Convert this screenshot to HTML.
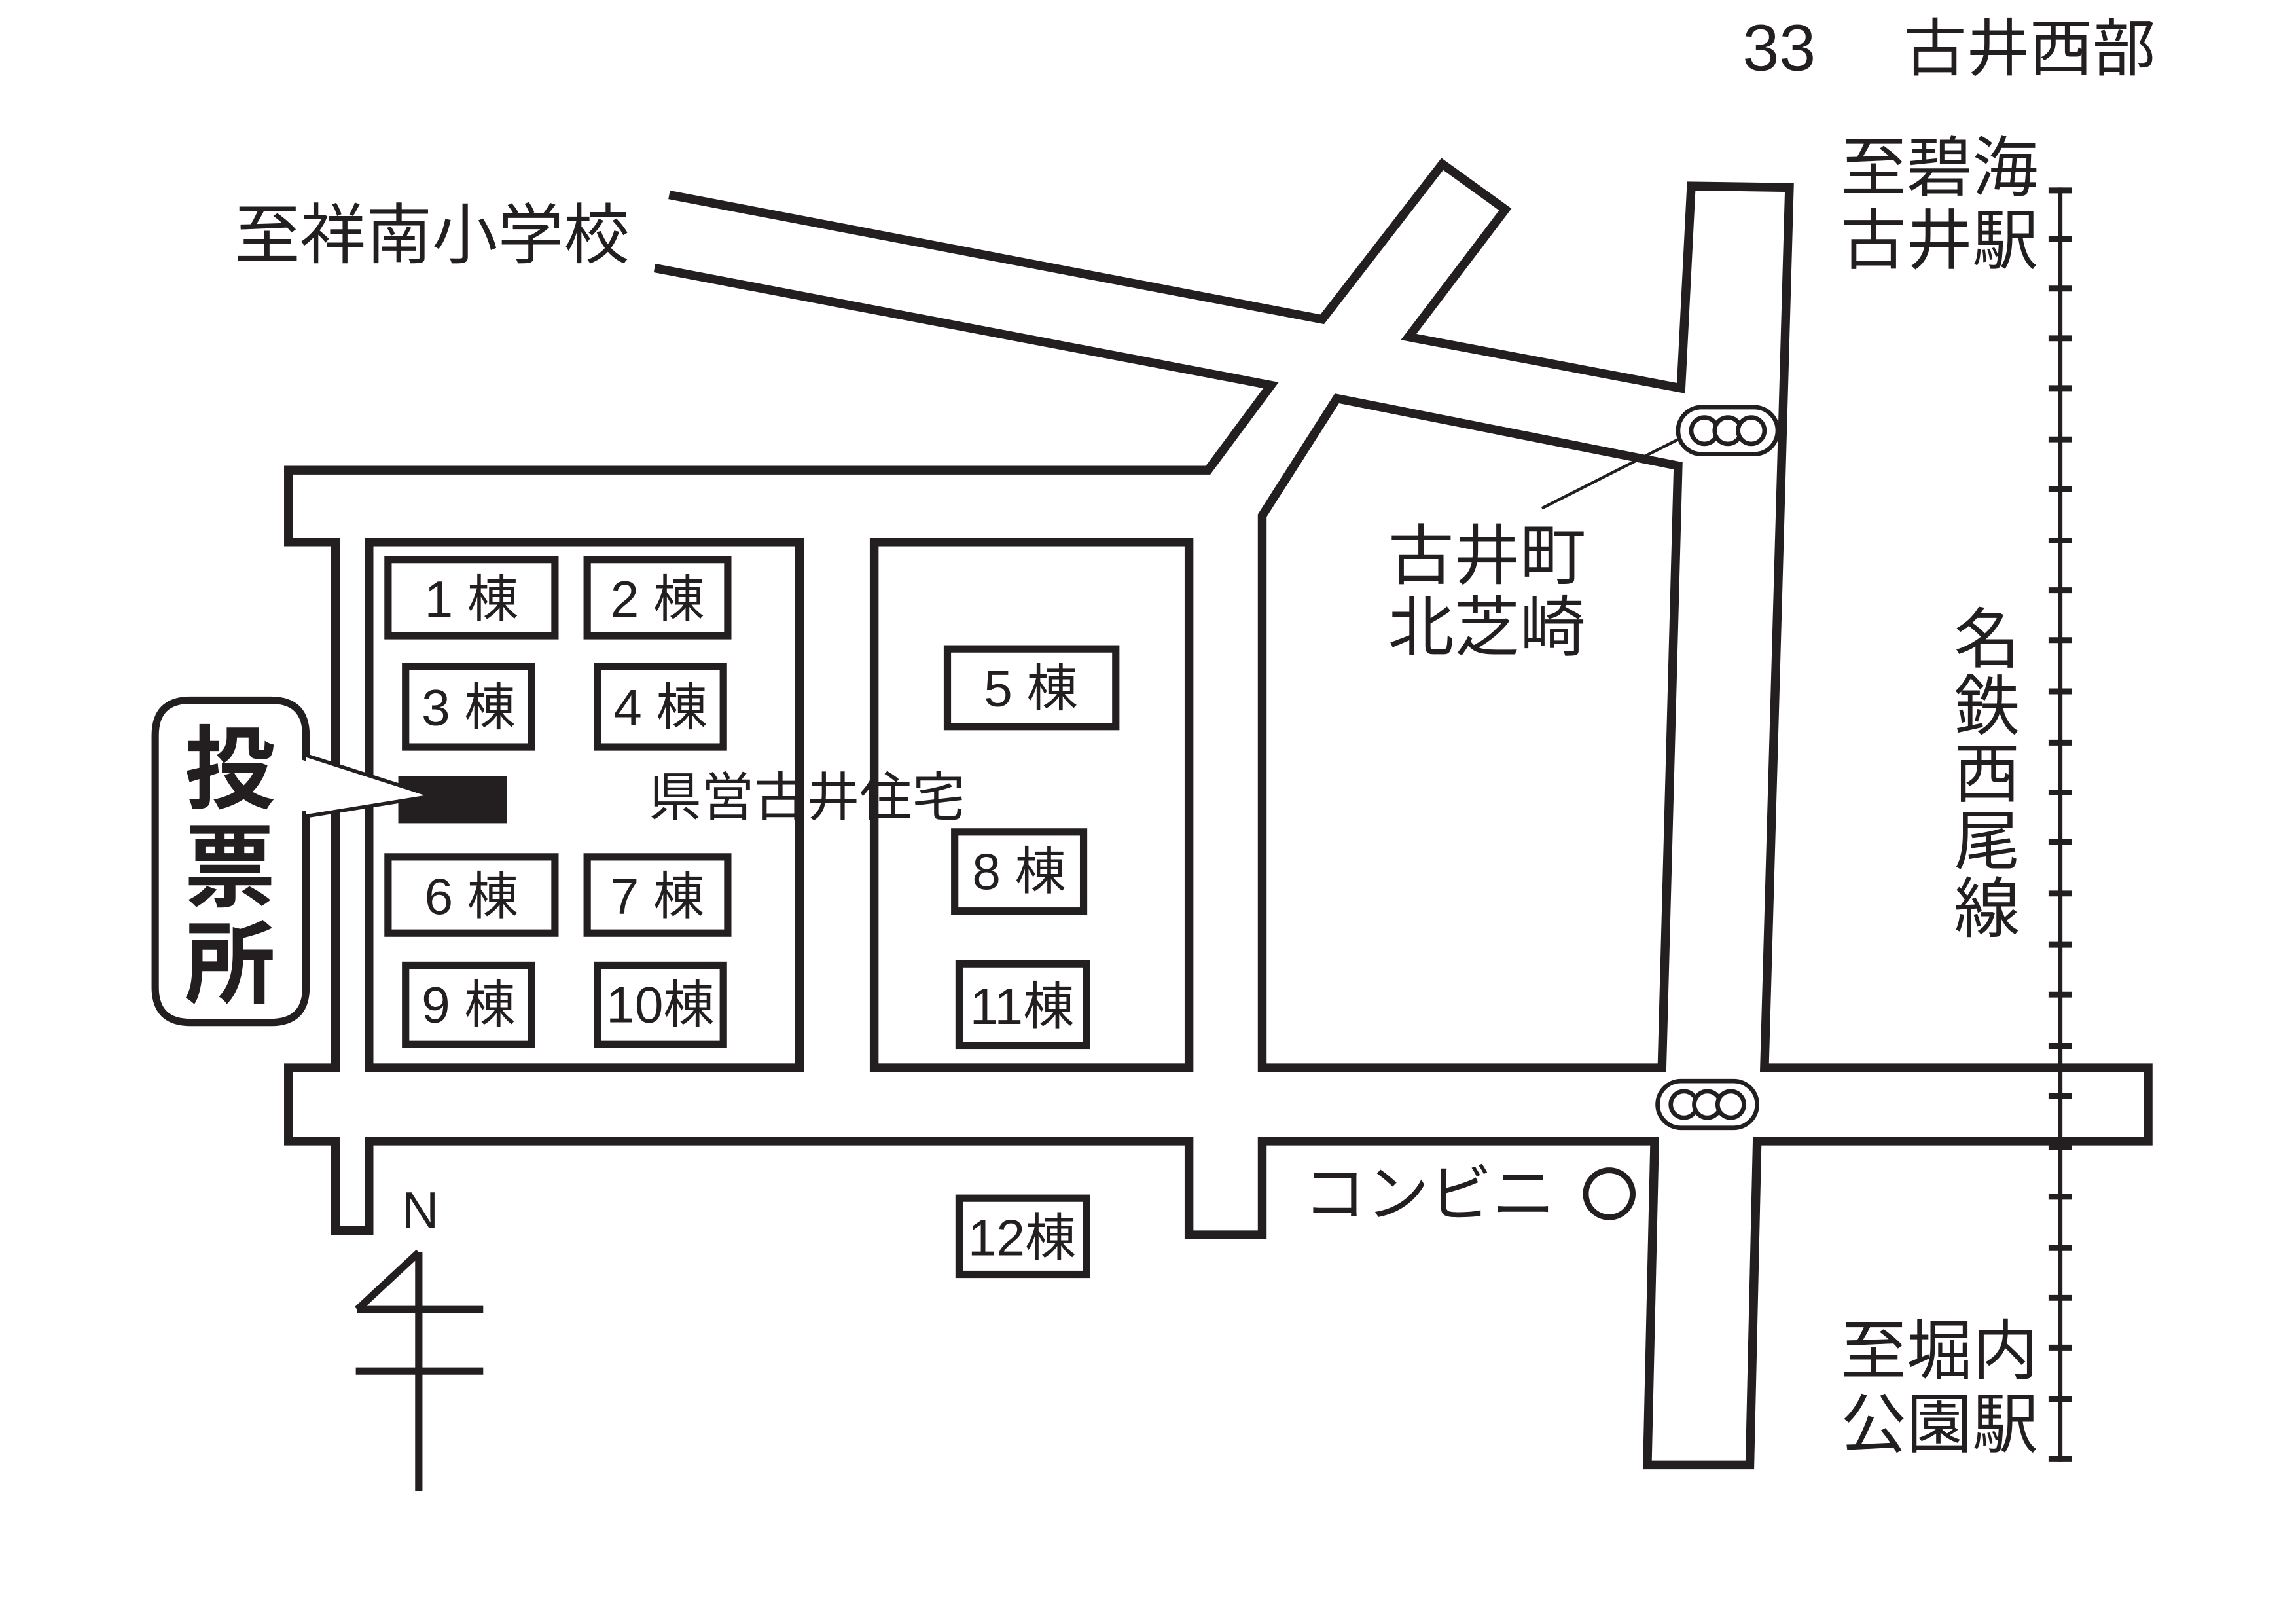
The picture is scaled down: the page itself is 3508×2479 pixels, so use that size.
<!DOCTYPE html>
<html><head><meta charset="utf-8"><style>
html,body{margin:0;padding:0;background:#fff;}
svg{display:block;}
text{font-family:"Liberation Sans","Noto Sans CJK JP",sans-serif;fill:#231f20;}
</style></head><body>
<svg width="3508" height="2479" viewBox="0 0 1568 1108" preserveAspectRatio="none" xmlns="http://www.w3.org/2000/svg">
<rect width="1568" height="1108" fill="#fff"/>
<g fill="none" stroke="#231f20" stroke-width="6" stroke-linejoin="miter">
<polyline points="457,133 903,218 985,112 1028,143 962,230 1148,265 1155,127 1222,128 1205,729 1467,729 1467,779 1200,779 1195,1000 1125,1000 1130,779 862,779 862,843 812,843 812,779 252,779 252,840 229,840 229,779 197,779 197,729 229,729 229,370 197,370 197,321 825,321 868,263 447,183"/>
<rect x="252" y="370" width="294" height="359"/>
<rect x="597" y="370" width="215" height="359"/>
<polygon points="862,352 913,272 1146,318 1135,729 862,729"/>
<rect x="265" y="382" width="114" height="52" stroke-width="5"/>
<rect x="401" y="382" width="96" height="52" stroke-width="5"/>
<rect x="277" y="455" width="86" height="55" stroke-width="5"/>
<rect x="408" y="455" width="86" height="55" stroke-width="5"/>
<rect x="265" y="585" width="114" height="52" stroke-width="5"/>
<rect x="401" y="585" width="96" height="52" stroke-width="5"/>
<rect x="277" y="659" width="86" height="54" stroke-width="5"/>
<rect x="408" y="659" width="86" height="54" stroke-width="5"/>
<rect x="647" y="443" width="115" height="53" stroke-width="5"/>
<rect x="652" y="568" width="88" height="54" stroke-width="5"/>
<rect x="655" y="658" width="87" height="56" stroke-width="5"/>
<rect x="655" y="818" width="87" height="52" stroke-width="5"/>
</g>
<path d="M130,478 H185 Q209,478 209,502 V517 L290,543 L209,556 V674 Q209,698 185,698 H130 Q106,698 106,674 V502 Q106,478 130,478 Z" fill="#fff" stroke="#231f20" stroke-width="5"/>
<rect x="272" y="530" width="74" height="32" fill="#231f20"/>
<path d="M209,517 L290,543 L209,556" fill="#fff" stroke="none"/>
<text x="157" y="547" font-size="62" font-weight="bold" text-anchor="middle">投</text>
<text x="157" y="614" font-size="62" font-weight="bold" text-anchor="middle">票</text>
<text x="157" y="680" font-size="62" font-weight="bold" text-anchor="middle">所</text>
<g font-size="35" text-anchor="middle">
<text x="322" y="421">1 棟</text>
<text x="449" y="421">2 棟</text>
<text x="320" y="495">3 棟</text>
<text x="451" y="495">4 棟</text>
<text x="322" y="624">6 棟</text>
<text x="449" y="624">7 棟</text>
<text x="320" y="698">9 棟</text>
<text x="451" y="698">10棟</text>
<text x="704" y="482">5 棟</text>
<text x="696" y="607">8 棟</text>
<text x="698" y="699">11棟</text>
<text x="698" y="857">12棟</text>
</g>
<text x="443" y="557" font-size="36">県営古井住宅</text>
<g fill="#fff" stroke="#231f20" stroke-width="3">
<rect x="1146" y="278" width="68" height="32" rx="16"/>
<circle cx="1164" cy="294" r="9"/><circle cx="1180" cy="294" r="9"/><circle cx="1196" cy="294" r="9"/>
<rect x="1132" y="738" width="68" height="32" rx="16"/>
<circle cx="1150" cy="754" r="9"/><circle cx="1166" cy="754" r="9"/><circle cx="1182" cy="754" r="9"/>
</g>
<line x1="1146" y1="300" x2="1053" y2="347" stroke="#231f20" stroke-width="2"/>
<g stroke="#231f20">
<line x1="1407" y1="128" x2="1407" y2="998" stroke-width="3"/>
<path d="M1399,130H1415 M1399,163H1415 M1399,197H1415 M1399,231H1415 M1399,265H1415 M1399,300H1415 M1399,334H1415 M1399,369H1415 M1399,403H1415 M1399,437H1415 M1399,472H1415 M1399,507H1415 M1399,541H1415 M1399,575H1415 M1399,610H1415 M1399,645H1415 M1399,679H1415 M1399,714H1415 M1399,748H1415 M1399,783H1415 M1399,817H1415 M1399,852H1415 M1399,886H1415 M1399,920H1415 M1399,955H1415 M1399,996H1415" stroke-width="4"/>
</g>
<text x="1190" y="48" font-size="45">33</text>
<text x="1300" y="48" font-size="43">古井西部</text>
<text x="160" y="176" font-size="45">至祥南小学校</text>
<text x="1257" y="130" font-size="45">至碧海</text>
<text x="1257" y="180" font-size="45">古井駅</text>
<text x="948" y="395" font-size="45">古井町</text>
<text x="948" y="444" font-size="45">北芝崎</text>
<g font-size="45" text-anchor="middle">
<text x="1357" y="452">名</text>
<text x="1357" y="498">鉄</text>
<text x="1357" y="544">西</text>
<text x="1357" y="590">尾</text>
<text x="1357" y="636">線</text>
</g>
<text x="890" y="830" font-size="43">コンビニ</text>
<circle cx="1099" cy="815" r="16" fill="none" stroke="#231f20" stroke-width="4"/>
<text x="1257" y="938" font-size="45">至堀内</text>
<text x="1257" y="988" font-size="45">公園駅</text>
<text x="287" y="838" font-size="35" text-anchor="middle">N</text>
<g stroke="#231f20" stroke-width="5" fill="none">
<line x1="286" y1="855" x2="286" y2="1018"/>
<line x1="286" y1="855" x2="244" y2="894"/>
<line x1="244" y1="894" x2="330" y2="894"/>
<line x1="243" y1="936" x2="330" y2="936"/>
</g>
</svg>
</body></html>
